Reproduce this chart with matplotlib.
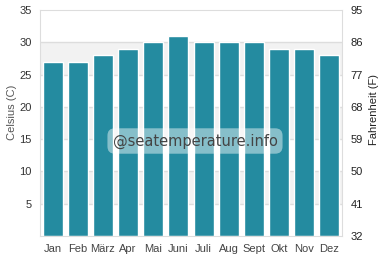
import matplotlib
matplotlib.use("Agg")
import matplotlib.pyplot as plt

months = ["Jan", "Feb", "März", "Apr", "Mai", "Juni", "Juli", "Aug", "Sept", "Okt", "Nov", "Dez"]
temps_c = [27, 27, 28, 29, 30, 31, 30, 30, 30, 29, 29, 28]
c_ticks = [5, 10, 15, 20, 25, 30, 35]
f_ticks = [32, 41, 50, 59, 68, 77, 86, 95]

plt.rcParams['font.family'] = ['Liberation Sans', 'DejaVu Sans']

fig = plt.figure(figsize=(3.82, 2.80), dpi=100)
ax = fig.add_axes([40/382, 1-236/280, 302/382, 226/280])

# alternating bands
for lo in (5, 15, 25):
    ax.axhspan(lo, lo+5, color='#f2f2f2', zorder=0, lw=0)
for y in range(5, 35, 5):
    ax.axhline(y, color='#dddddd', lw=1, zorder=0.5)

x = list(range(len(months)))
ax.bar(x, temps_c, width=0.8, color='#248ba0', edgecolor='white', linewidth=1, zorder=2)

ax.set_xlim(-0.5, 11.5)
ax.set_ylim(0, 35)
ax.set_xticks(x)
ax.set_xticklabels(months)
ax.set_yticks(c_ticks)
ax.tick_params(length=0, labelsize=8, colors='#333333', pad=6)
ax.tick_params(axis='x', colors='#444444')
for s in ax.spines.values():
    s.set_color('#dddddd')

ax2 = ax.twinx()
ax2.set_ylim(32, 95)
ax2.set_yticks(f_ticks)
ax2.tick_params(length=0, labelsize=8, colors='#222222', pad=6)
for s in ax2.spines.values():
    s.set_visible(False)

fig.text(12/382, 1-112/280, "Celsius (C)", fontsize=8, color='#555555',
         rotation=90, ha='center', va='center')
fig.text(374/382, 1-110/280, "Fahrenheit (F)", fontsize=8, color='#222222',
         rotation=90, ha='center', va='center')

# watermark
fig.text(195/382, 1-141/280, "@seatemperature.info", fontsize=10.5, color='#444444',
         family='DejaVu Sans', ha='center', va='center', zorder=10,
         bbox=dict(boxstyle='round,pad=0.35,rounding_size=0.5', fc='white', ec='none', alpha=0.45))

fig.savefig("out.png", dpi=100)
